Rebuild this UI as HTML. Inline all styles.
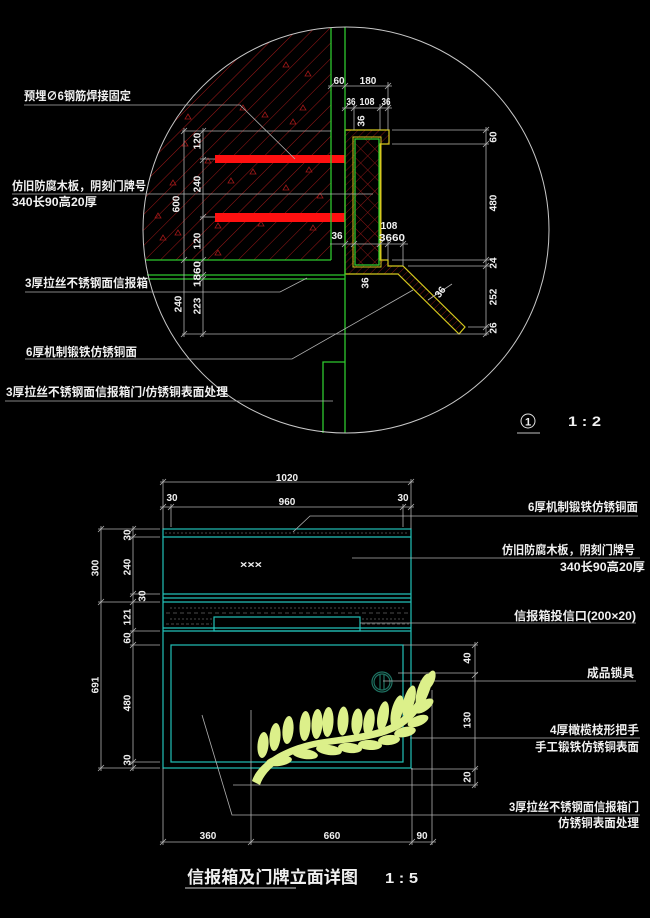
<!DOCTYPE html>
<html><head><meta charset="utf-8">
<style>
html,body{margin:0;padding:0;background:#000;}
svg{display:block;}
text{font-family:"Liberation Sans","Noto Sans CJK SC",sans-serif;fill:#f0f0f0;}
.lb{font-size:12px;font-weight:700;}
.dm{font-size:10px;font-weight:700;}
</style></head>
<body>
<svg width="650" height="918" viewBox="0 0 650 918" xmlns="http://www.w3.org/2000/svg">
<defs>
  <pattern id="wh" width="11" height="11" patternUnits="userSpaceOnUse" patternTransform="rotate(45)">
    <line x1="0" y1="0" x2="0" y2="11" stroke="#a01818" stroke-width="1"/>
  </pattern>
  <pattern id="ch" width="5" height="5" patternUnits="userSpaceOnUse" patternTransform="rotate(45)">
    <line x1="0" y1="0" x2="0" y2="5" stroke="#7a1212" stroke-width="1"/>
  </pattern>
  <pattern id="xh" width="10" height="10" patternUnits="userSpaceOnUse" patternTransform="rotate(45)">
    <line x1="0" y1="0" x2="0" y2="10" stroke="#8a1616" stroke-width="1"/>
    <line x1="0" y1="0" x2="10" y2="0" stroke="#8a1616" stroke-width="1"/>
  </pattern>
  <clipPath id="cc"><circle cx="346" cy="230" r="203"/></clipPath>
</defs>

<!-- ============ TOP DETAIL ============ -->
<g clip-path="url(#cc)">
  <rect x="140" y="25" width="191" height="235" fill="url(#wh)"/>
  <path fill="none" stroke="#a01818" stroke-width="0.8" d="M283,67l3,-5l3,5z M305,76l3,-5l3,5z M240,110l3,-5l3,5z M262,117l3,-5l3,5z M290,124l3,-5l3,5z M185,119l3,-5l3,5z M182,146l3,-5l3,5z M228,183l3,-5l3,5z M250,174l3,-5l3,5z M306,172l3,-5l3,5z M300,110l3,-5l3,5z M170,185l3,-5l3,5z M283,190l3,-5l3,5z M317,198l3,-5l3,5z M155,218l3,-5l3,5z M175,235l3,-5l3,5z M215,228l3,-5l3,5z M310,230l3,-5l3,5z M258,226l3,-5l3,5z M215,255l3,-5l3,5z M160,240l3,-5l3,5z M205,163l3,-5l3,5z"/>
</g>

<!-- red bars -->
<rect x="215" y="155" width="130" height="8" fill="#ff1010"/>
<rect x="215" y="213" width="130" height="9" fill="#ff1010"/>

<!-- C channel -->
<polygon points="345,130 389,130 389,144 380,144 380,260 388,260 388,266 403,266 465,327 459,334 398,274 345,274" fill="url(#ch)" stroke="#d4c81e" stroke-width="1.2"/>
<rect x="353" y="137" width="28" height="130" fill="none" stroke="#d4c81e" stroke-width="1"/>
<rect x="355" y="139" width="24" height="126" fill="#000" stroke="none"/>
<rect x="355" y="139" width="24" height="126" fill="url(#xh)" stroke="#2ec82e" stroke-width="1.3"/>

<!-- green lines -->
<g stroke="#2ec82e" stroke-width="1.3" fill="none">
  <line x1="331" y1="28" x2="331" y2="260"/>
  <line x1="345" y1="27" x2="345" y2="433"/>
  <line x1="145" y1="260" x2="331" y2="260"/>
  <line x1="147" y1="275" x2="345" y2="275"/>
  <line x1="148" y1="279" x2="345" y2="279"/>
  <polyline points="323,433 323,362 345,362"/>
</g>

<!-- circle -->
<circle cx="346" cy="230" r="203" fill="none" stroke="#c8c8c8" stroke-width="1"/>

<!-- dims/extension lines top -->
<g stroke="#b0b0b0" stroke-width="0.8" fill="none">
  <line x1="328" y1="86" x2="392" y2="86"/>
  <line x1="342" y1="108" x2="392" y2="108"/>
  <line x1="388" y1="82" x2="388" y2="130"/>
  <line x1="354" y1="104" x2="354" y2="130"/>
  <line x1="380" y1="104" x2="380" y2="130"/>
  <line x1="330" y1="244" x2="408" y2="244"/>
  <line x1="388" y1="240" x2="388" y2="260"/>
  <line x1="403" y1="240" x2="403" y2="266"/>
  <line x1="203" y1="128" x2="203" y2="337"/>
  <line x1="184" y1="128" x2="184" y2="337"/>
  <line x1="182" y1="131" x2="331" y2="131"/>
  <line x1="200" y1="159" x2="215" y2="159"/>
  <line x1="200" y1="217" x2="215" y2="217"/>
  <line x1="182" y1="334" x2="489" y2="334"/>
  <line x1="486" y1="127" x2="486" y2="336"/>
  <line x1="392" y1="130" x2="489" y2="130"/>
  <line x1="392" y1="144" x2="489" y2="144"/>
  <line x1="392" y1="260" x2="489" y2="260"/>
  <line x1="408" y1="266" x2="489" y2="266"/>
  <line x1="468" y1="327" x2="489" y2="327"/>
  <!-- leaders -->
  <polyline points="24,105 240,105 295,159"/>
  <line x1="12" y1="194" x2="373" y2="194"/>
  <polyline points="25,292 280,292 307,278"/>
  <polyline points="25,359 292,359 413,290"/>
  <line x1="5" y1="401" x2="333" y2="401"/>
  <line x1="428" y1="300" x2="452" y2="284"/>
  <!-- ticks -->
  <path d="M328,89l6,-6M342,89l6,-6M385,89l6,-6
           M342,111l6,-6M351,111l6,-6M377,111l6,-6M385,111l6,-6
           M342,247l6,-6M351,247l6,-6M377,247l6,-6M385,247l6,-6M400,247l6,-6
           M200,134l6,-6M200,163l6,-6M200,220l6,-6M200,263l6,-6M200,278l6,-6M200,282l6,-6M200,337l6,-6
           M181,134l6,-6M181,263l6,-6M181,337l6,-6
           M483,133l6,-6M483,147l6,-6M483,263l6,-6M483,269l6,-6M483,330l6,-6M483,337l6,-6"/>
</g>

<!-- top labels -->
<text class="lb" x="24" y="100" textLength="107" lengthAdjust="spacingAndGlyphs">预埋∅6钢筋焊接固定</text>
<text class="lb" x="12" y="190" textLength="134" lengthAdjust="spacingAndGlyphs">仿旧防腐木板，阴刻门牌号</text>
<text class="lb" x="12" y="206" textLength="85" lengthAdjust="spacingAndGlyphs">340长90高20厚</text>
<text class="lb" x="25" y="287" textLength="123" lengthAdjust="spacingAndGlyphs">3厚拉丝不锈钢面信报箱</text>
<text class="lb" x="26" y="356" textLength="111" lengthAdjust="spacingAndGlyphs">6厚机制锻铁仿锈铜面</text>
<text class="lb" x="6" y="396" textLength="222" lengthAdjust="spacingAndGlyphs">3厚拉丝不锈钢面信报箱门/仿锈铜表面处理</text>

<!-- top dim numbers -->
<g class="dm" text-anchor="middle">
  <text class="dm" x="339" y="84">60</text>
  <text class="dm" x="368" y="84">180</text>
  <text class="dm" x="351" y="105" textLength="9" lengthAdjust="spacingAndGlyphs">36</text>
  <text class="dm" x="367" y="105" textLength="15" lengthAdjust="spacingAndGlyphs">108</text>
  <text class="dm" x="386" y="105" textLength="9" lengthAdjust="spacingAndGlyphs">36</text>
  <text class="dm" x="389" y="229">108</text>
  <text class="dm" x="392" y="241" textLength="26" lengthAdjust="spacingAndGlyphs">3660</text>
  <text class="dm" x="337" y="239">36</text>
  <text class="dm" transform="translate(361,121) rotate(-90)" y="3.5">36</text>
  <text class="dm" transform="translate(365,283) rotate(-90)" y="3.5">36</text>
  <text class="dm" transform="translate(440,292) rotate(-52)" y="3.5">36</text>
  <text class="dm" transform="translate(197,141) rotate(-90)" y="3.5">120</text>
  <text class="dm" transform="translate(197,184) rotate(-90)" y="3.5">240</text>
  <text class="dm" transform="translate(176,204) rotate(-90)" y="3.5">600</text>
  <text class="dm" transform="translate(197,241) rotate(-90)" y="3.5">120</text>
  <text class="dm" transform="translate(197,274) rotate(-90)" y="3.5" textLength="26" lengthAdjust="spacingAndGlyphs">1860</text>
  <text class="dm" transform="translate(178,304) rotate(-90)" y="3.5">240</text>
  <text class="dm" transform="translate(197,306) rotate(-90)" y="3.5">223</text>
  <text class="dm" transform="translate(493,137) rotate(-90)" y="3.5">60</text>
  <text class="dm" transform="translate(493,203) rotate(-90)" y="3.5">480</text>
  <text class="dm" transform="translate(493,263) rotate(-90)" y="3.5">24</text>
  <text class="dm" transform="translate(493,297) rotate(-90)" y="3.5">252</text>
  <text class="dm" transform="translate(493,328) rotate(-90)" y="3.5">26</text>
</g>

<!-- 1:2 -->
<circle cx="528" cy="421" r="7" fill="none" stroke="#e0e0e0" stroke-width="1"/>
<text x="528" y="425.5" text-anchor="middle" style="font-size:11px;font-weight:700">1</text>
<line x1="517" y1="433" x2="540" y2="433" stroke="#c0c0c0" stroke-width="1"/>
<text x="568" y="426" textLength="33" lengthAdjust="spacingAndGlyphs" style="font-size:14px;font-weight:700">1 : 2</text>

<!-- ============ BOTTOM ELEVATION ============ -->
<!-- dotted textures -->
<g stroke="#4a4a4a" stroke-width="1" stroke-dasharray="2 2">
  <line x1="165" y1="533" x2="409" y2="533"/>
  <line x1="170" y1="608" x2="405" y2="608"/>
  <line x1="166" y1="613" x2="409" y2="613" stroke-dasharray="4 3"/>
  <line x1="170" y1="619" x2="212" y2="619"/>
  <line x1="362" y1="619" x2="405" y2="619"/>
  <line x1="166" y1="624" x2="212" y2="624" stroke-dasharray="3 2"/>
  <line x1="362" y1="624" x2="409" y2="624" stroke-dasharray="3 2"/>
</g>
<g stroke="#22c0b8" stroke-width="1.2" fill="none">
  <rect x="163" y="529" width="248" height="239"/>
  <line x1="163" y1="537" x2="411" y2="537"/>
  <line x1="163" y1="594" x2="411" y2="594"/>
  <line x1="163" y1="598" x2="411" y2="598"/>
  <line x1="163" y1="602" x2="411" y2="602"/>
  <line x1="163" y1="628" x2="411" y2="628"/>
  <line x1="163" y1="631" x2="411" y2="631"/>
  <rect x="214" y="617" width="146" height="14"/>
  <rect x="171" y="645" width="232" height="117"/>
</g>
<text x="251" y="568" text-anchor="middle" style="font-size:10px;font-weight:700" textLength="22" lengthAdjust="spacingAndGlyphs">×××</text>

<!-- lock -->
<g stroke="#1e7262" stroke-width="1.2" fill="none">
  <circle cx="382" cy="682" r="10"/>
  <circle cx="382" cy="682" r="8"/>
  <line x1="380" y1="674" x2="380" y2="690"/>
  <line x1="384" y1="674" x2="384" y2="690"/>
</g>

<!-- dims bottom -->
<g stroke="#b0b0b0" stroke-width="0.8" fill="none">
  <line x1="160" y1="482" x2="414" y2="482"/>
  <line x1="160" y1="507" x2="414" y2="507"/>
  <line x1="163" y1="479" x2="163" y2="529"/>
  <line x1="411" y1="479" x2="411" y2="529"/>
  <line x1="171" y1="504" x2="171" y2="527"/>
  <line x1="403" y1="504" x2="403" y2="527"/>
  <line x1="101" y1="526" x2="101" y2="771"/>
  <line x1="133" y1="526" x2="133" y2="771"/>
  <line x1="98" y1="529" x2="160" y2="529"/>
  <line x1="130" y1="537" x2="160" y2="537"/>
  <line x1="130" y1="594" x2="160" y2="594"/>
  <line x1="98" y1="602" x2="160" y2="602"/>
  <line x1="130" y1="631" x2="160" y2="631"/>
  <line x1="130" y1="645" x2="160" y2="645"/>
  <line x1="130" y1="762" x2="160" y2="762"/>
  <line x1="98" y1="768" x2="160" y2="768"/>
  <line x1="475" y1="642" x2="475" y2="788"/>
  <line x1="403" y1="645" x2="478" y2="645"/>
  <line x1="398" y1="673" x2="478" y2="673"/>
  <line x1="411" y1="769" x2="478" y2="769"/>
  <line x1="233" y1="785" x2="478" y2="785"/>
  <line x1="160" y1="842" x2="436" y2="842"/>
  <line x1="163" y1="768" x2="163" y2="845"/>
  <line x1="251" y1="710" x2="251" y2="845"/>
  <line x1="412" y1="768" x2="412" y2="845"/>
  <line x1="432" y1="690" x2="432" y2="845"/>
  <!-- leaders -->
  <polyline points="293,532 310,516 638,516"/>
  <line x1="352" y1="558" x2="640" y2="558"/>
  <line x1="360" y1="623" x2="636" y2="623"/>
  <line x1="383" y1="681" x2="636" y2="681"/>
  <line x1="410" y1="738" x2="640" y2="738"/>
  <polyline points="202,715 232,815 640,815"/>
  <line x1="185" y1="888" x2="296" y2="888" stroke="#d0d0d0" stroke-width="1"/>
  <!-- ticks -->
  <path d="M160,485l6,-6M408,485l6,-6
           M160,510l6,-6M168,510l6,-6M400,510l6,-6M408,510l6,-6
           M98,532l6,-6M98,605l6,-6M98,771l6,-6
           M130,532l6,-6M130,540l6,-6M130,597l6,-6M130,605l6,-6M130,634l6,-6M130,648l6,-6M130,765l6,-6M130,771l6,-6
           M472,648l6,-6M472,678l6,-6M472,772l6,-6M472,788l6,-6
           M160,845l6,-6M248,845l6,-6M409,845l6,-6M430,845l6,-6"/>
</g>

<g text-anchor="middle">
  <text class="dm" x="287" y="481">1020</text>
  <text class="dm" x="172" y="501">30</text>
  <text class="dm" x="287" y="505">960</text>
  <text class="dm" x="403" y="501">30</text>
  <text class="dm" x="208" y="839">360</text>
  <text class="dm" x="332" y="839">660</text>
  <text class="dm" x="422" y="839">90</text>
  <text class="dm" transform="translate(95,568) rotate(-90)" y="3.5">300</text>
  <text class="dm" transform="translate(95,685) rotate(-90)" y="3.5">691</text>
  <text class="dm" transform="translate(127,535) rotate(-90)" y="3.5">30</text>
  <text class="dm" transform="translate(127,567) rotate(-90)" y="3.5">240</text>
  <text class="dm" transform="translate(142,596) rotate(-90)" y="3.5">30</text>
  <text class="dm" transform="translate(127,617) rotate(-90)" y="3.5">121</text>
  <text class="dm" transform="translate(127,638) rotate(-90)" y="3.5">60</text>
  <text class="dm" transform="translate(127,703) rotate(-90)" y="3.5">480</text>
  <text class="dm" transform="translate(127,760) rotate(-90)" y="3.5">30</text>
  <text class="dm" transform="translate(467,658) rotate(-90)" y="3.5">40</text>
  <text class="dm" transform="translate(467,720) rotate(-90)" y="3.5">130</text>
  <text class="dm" transform="translate(467,777) rotate(-90)" y="3.5">20</text>
</g>

<!-- right labels -->
<g text-anchor="end">
  <text class="lb" x="638" y="511" textLength="110" lengthAdjust="spacingAndGlyphs">6厚机制锻铁仿锈铜面</text>
  <text class="lb" x="635" y="554" textLength="133" lengthAdjust="spacingAndGlyphs">仿旧防腐木板，阴刻门牌号</text>
  <text class="lb" x="645" y="571" textLength="85" lengthAdjust="spacingAndGlyphs">340长90高20厚</text>
  <text class="lb" x="636" y="620" textLength="122" lengthAdjust="spacingAndGlyphs">信报箱投信口(200×20)</text>
  <text class="lb" x="634" y="677" textLength="47" lengthAdjust="spacingAndGlyphs">成品锁具</text>
  <text class="lb" x="639" y="734" textLength="89" lengthAdjust="spacingAndGlyphs">4厚橄榄枝形把手</text>
  <text class="lb" x="639" y="751" textLength="104" lengthAdjust="spacingAndGlyphs">手工锻铁仿锈铜表面</text>
  <text class="lb" x="639" y="811" textLength="130" lengthAdjust="spacingAndGlyphs">3厚拉丝不锈钢面信报箱门</text>
  <text class="lb" x="639" y="827" textLength="81" lengthAdjust="spacingAndGlyphs">仿锈铜表面处理</text>
</g>

<!-- olive branch -->
<g fill="#dcf08a">
  <path d="M252,781 C257,765 280,747 318,740 C350,735 378,733 397,721 C411,711 421,697 426,683 L431,686 C427,701 417,717 402,727 C381,740 352,742 320,746 C291,752 267,765 260,785 Z"/>
  <ellipse cx="263" cy="745" rx="5.5" ry="13" transform="rotate(5 263 745)"/>
  <ellipse cx="275" cy="737" rx="5.5" ry="14" transform="rotate(5 275 737)"/>
  <ellipse cx="288" cy="730" rx="5.5" ry="14" transform="rotate(5 288 730)"/>
  <ellipse cx="305" cy="726" rx="5.5" ry="15" transform="rotate(3 305 726)"/>
  <ellipse cx="317" cy="724" rx="5.5" ry="15" transform="rotate(3 317 724)"/>
  <ellipse cx="328" cy="722" rx="5.5" ry="15" transform="rotate(3 328 722)"/>
  <ellipse cx="343" cy="721" rx="5.5" ry="14.5" transform="rotate(3 343 721)"/>
  <ellipse cx="357" cy="722" rx="5.5" ry="13.5" transform="rotate(5 357 722)"/>
  <ellipse cx="369" cy="722" rx="5.5" ry="13.5" transform="rotate(8 369 722)"/>
  <ellipse cx="383" cy="716" rx="5.5" ry="15" transform="rotate(10 383 716)"/>
  <ellipse cx="397" cy="711" rx="5.5" ry="16" transform="rotate(14 397 711)"/>
  <ellipse cx="409" cy="701" rx="5.5" ry="16" transform="rotate(16 409 701)"/>
  <ellipse cx="423" cy="690" rx="5.5" ry="17" transform="rotate(18 423 690)"/>
  <ellipse cx="279" cy="761" rx="13" ry="5" transform="rotate(-8 279 761)"/>
  <ellipse cx="305" cy="754" rx="13" ry="5" transform="rotate(8 305 754)"/>
  <ellipse cx="329" cy="750" rx="13" ry="5" transform="rotate(8 329 750)"/>
  <ellipse cx="350" cy="748" rx="12" ry="5" transform="rotate(6 350 748)"/>
  <ellipse cx="370" cy="745" rx="12" ry="5" transform="rotate(3 370 745)"/>
  <ellipse cx="389" cy="740" rx="11" ry="5" transform="rotate(-5 389 740)"/>
  <ellipse cx="405" cy="732" rx="11" ry="5" transform="rotate(-12 405 732)"/>
  <ellipse cx="418" cy="721" rx="11" ry="5" transform="rotate(-22 418 721)"/>
  <ellipse cx="424" cy="706" rx="11" ry="5" transform="rotate(-35 424 706)"/>
  <ellipse cx="430" cy="680" rx="4.5" ry="10" transform="rotate(22 430 680)"/>
</g>

<!-- title -->
<text x="187" y="883" textLength="171" lengthAdjust="spacingAndGlyphs" style="font-size:17px;font-weight:700">信报箱及门牌立面详图</text>
<text x="385" y="883" textLength="33" lengthAdjust="spacingAndGlyphs" style="font-size:15px;font-weight:700">1 : 5</text>
</svg>
</body></html>
